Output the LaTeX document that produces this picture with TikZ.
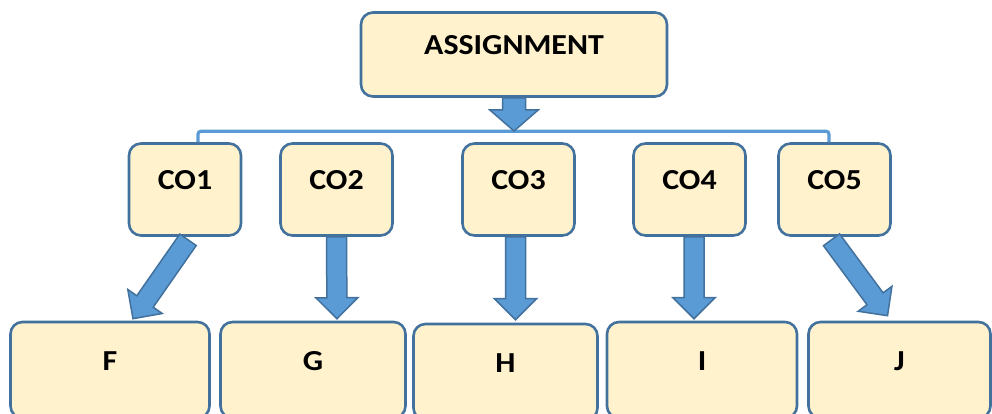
\documentclass[tikz,border=0pt]{standalone}
\usepackage{fontspec}
\setmainfont{Carlito}[FakeStretch=1.1]
\usetikzlibrary{calc}

\definecolor{boxfill}{HTML}{FFF2CC}
\definecolor{boxline}{HTML}{41719C}
\definecolor{arrowfill}{HTML}{5B9BD5}

\tikzset{
  box/.style={draw=boxline, fill=boxfill, line width=2.6pt, rounded corners=12pt,
    inner sep=0pt, text height=15pt, text depth=15pt,
    font=\bfseries\fontsize{29}{32}\selectfont},
  fat/.style={draw=boxline, fill=arrowfill, line width=1.5pt, line join=miter},
  bracket/.style={draw=arrowfill, line width=3.2pt, rounded corners=3pt}
}

% block arrow from #2 to #3, #1 scales the widths
\newcommand\fatarrow[3][1]{%
  \coordinate (hb) at ($(#3)!21pt!(#2)$);
  \draw[fat] ($(#2)!#1*10pt!90:(#3)$) -- ($(hb)!#1*10pt!90:(#3)$)
    -- ($(hb)!#1*21pt!90:(#3)$) -- (#3) -- ($(hb)!#1*21pt!-90:(#3)$)
    -- ($(hb)!#1*10pt!-90:(#3)$) -- ($(#2)!#1*10pt!-90:(#3)$) -- cycle;
}

\begin{document}
\begin{tikzpicture}[x=1pt,y=-1pt]
  \clip (0,0) rectangle (992,414);

  % top box
  \node[box, minimum width=306pt, minimum height=84pt] (asg) at (514,54.5) {ASSIGNMENT};

  % CO boxes
  \foreach \x/\n in {185/1, 336.5/2, 518.5/3, 689.5/4, 834.5/5} {
    \node[box, minimum width=112pt, minimum height=92pt] (co\n) at (\x,189.5) {CO\n};
  }

  % bottom boxes
  \foreach \x/\y/\w/\n/\t in {110/370/199/f/F, 313/370/185/g/G, 505.5/372/184/h/H,
                              702/370/190/i/I, 899.5/370/182/j/J} {
    \node[box, minimum width=\w pt, minimum height=96pt] (\n) at (\x,\y) {\t};
  }

  % bracket over the CO row
  \draw[bracket] ([xshift=13pt]co1.north) -- ++(0,-11) -| ([xshift=-5.5pt]co5.north);
  \coordinate (fork) at (asg.south |- 0,131);
  \fatarrow[1.15]{asg.south}{fork}

  % arrow ends
  \coordinate (f-tail) at ($(co1.south)+(3,3)$);
  \coordinate (f-tip) at ($(f.north)+(23,-2)$);
  \coordinate (g-tip) at ($(co2.south |- g.north)+(0.5,-2)$);
  \coordinate (h-tip) at ($(co3.south |- h.north)+(-3,-3)$);
  \coordinate (h-tail) at ($(co3.south)+(-3,0)$);
  \coordinate (i-tip) at ($(co4.south |- i.north)+(4.5,-2)$);
  \coordinate (i-tail) at ($(co4.south)+(4.5,0)$);
  \coordinate (j-tail) at ($(co5.south)+(-3,3)$);
  \coordinate (j-tip) at ($(j.north)+(-12,-5)$);

  \fatarrow{f-tail}{f-tip}
  \fatarrow{co2.south}{g-tip}
  \fatarrow{h-tail}{h-tip}
  \fatarrow{i-tail}{i-tip}
  \fatarrow{j-tail}{j-tip}
\end{tikzpicture}
\end{document}
